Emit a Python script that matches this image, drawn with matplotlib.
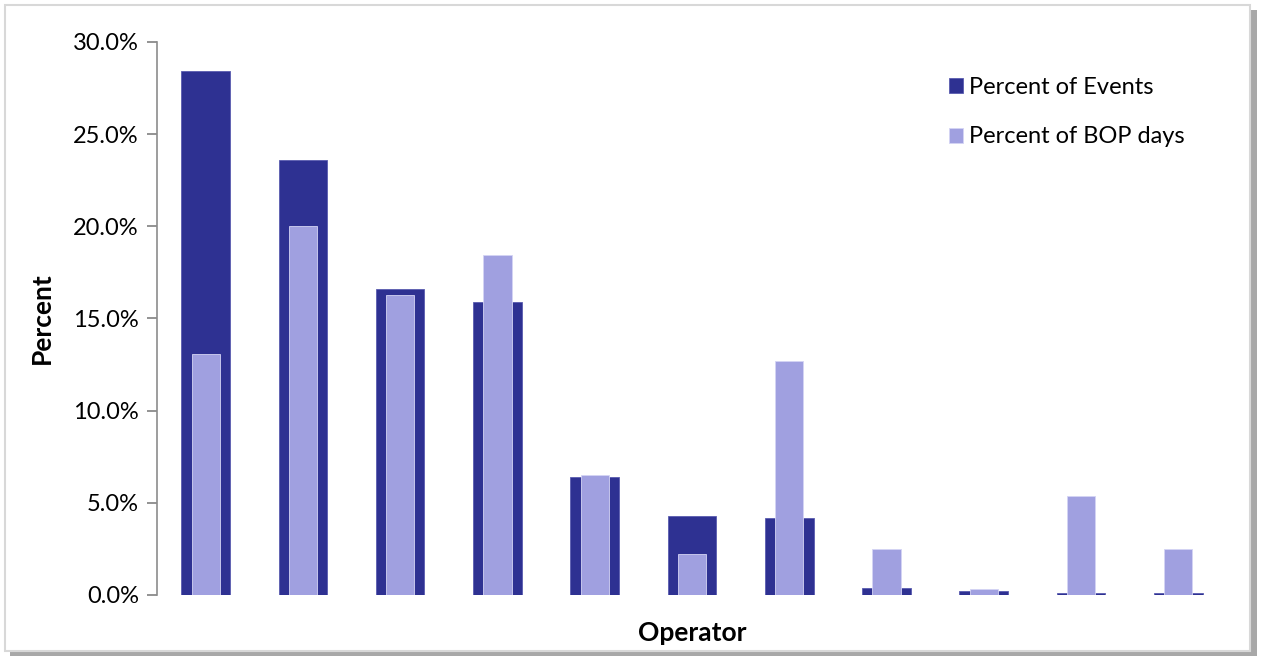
import matplotlib
matplotlib.use('Agg')
import matplotlib.pyplot as plt
from matplotlib.patches import Rectangle
from matplotlib.ticker import FuncFormatter
import numpy as np

plt.rcParams['font.family'] = ['Lato', 'DejaVu Sans']

# ─── DATA ────────────────────────────────────────────────────────────────────
operators = ['Op 1', 'Op 2', 'Op 3', 'Op 4', 'Op 5', 'Op 6',
             'Op 7', 'Op 8', 'Op 9', 'Op 10', 'Op 11']
pct_events = [28.4, 23.6, 16.6, 15.9, 6.4, 4.3, 4.15, 0.4, 0.2, 0.1, 0.1]
pct_bop = [13.1, 20.0, 16.3, 18.45, 6.5, 2.25, 12.7, 2.5, 0.35, 5.35, 2.5]

DARK = '#2e3192'
LIGHT = '#a0a0e0'

# ─── FIGURE ──────────────────────────────────────────────────────────────────
fig = plt.figure(figsize=(12.61, 6.56), dpi=100, facecolor='white')

# frame with shadow (behind the axes)
fig.patches.append(Rectangle((0.008, 0.0), 0.989, 0.985, transform=fig.transFigure,
                             facecolor='#a8a8a8', edgecolor='none', zorder=-10))
fig.patches.append(Rectangle((0.004, 0.008), 0.987, 0.985, transform=fig.transFigure,
                             facecolor='white', edgecolor='#d8d8d8', linewidth=1.5, zorder=-9))

ax = fig.add_axes([0.1245, 0.093, 0.8485, 0.843])
ax.set_facecolor('none')

x = np.arange(len(operators))
ax.bar(x, [v / 100 for v in pct_events], width=0.5, color=DARK,
       edgecolor='#5a5cb0', linewidth=0.6, label='Percent of Events', zorder=2)
ax.bar(x, [v / 100 for v in pct_bop], width=0.29, color=LIGHT,
       edgecolor='#d4d4f4', linewidth=0.6, label='Percent of BOP days', zorder=3)

ax.set_xlim(-0.5, len(operators) - 0.5)
ax.set_ylim(0, 0.30)
ax.set_yticks(np.arange(0, 0.301, 0.05))
ax.yaxis.set_major_formatter(FuncFormatter(lambda v, p: f'{v*100:.1f}%'))
ax.set_xticks([])
ax.tick_params(axis='y', labelsize=17, colors='#808080', labelcolor='black',
               length=7, width=1.2, pad=6)

for sp in ['top', 'right', 'bottom']:
    ax.spines[sp].set_visible(False)
ax.spines['left'].set_color('#8c8c8c')
ax.spines['left'].set_linewidth(1.2)

ax.set_ylabel('Percent', fontsize=19, fontweight='bold', labelpad=14)
ax.set_xlabel('Operator', fontsize=19, fontweight='bold', labelpad=19)

leg = ax.legend(loc='upper right', bbox_to_anchor=(0.98, 0.975), frameon=False,
                fontsize=17, handlelength=0.6, handleheight=0.6, handletextpad=0.25,
                labelspacing=1.2)

plt.savefig('out.png', dpi=100, facecolor='white')
plt.close()
